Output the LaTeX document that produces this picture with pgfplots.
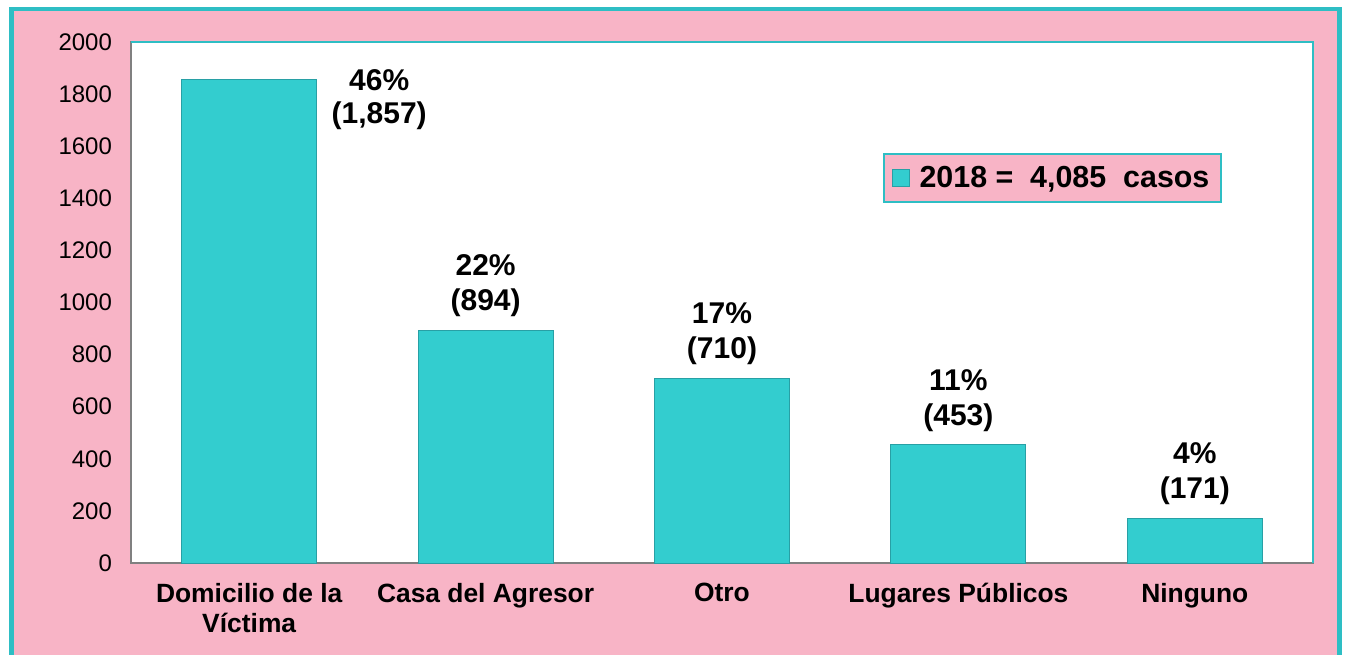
\documentclass[border=0pt]{standalone}
\usepackage{pgfplots}
\pgfplotsset{compat=1.18}
\usepackage{fontspec}
\setmainfont{Liberation Sans}
\definecolor{bgpink}{RGB}{248,180,198}
\definecolor{tealb}{RGB}{46,190,196}
\definecolor{barfill}{RGB}{51,205,207}
\definecolor{bardraw}{RGB}{40,160,165}
\begin{document}
\begin{tikzpicture}
% background and outer frame (1 px = 0.5pt)
\fill[white] (0pt,0pt) rectangle (672.5pt,327.5pt);
\fill[tealb] (4.5pt,0pt) rectangle (671pt,324pt);
\fill[bgpink] (7pt,0pt) rectangle (668.5pt,322pt);
\begin{axis}[
  at={(65.5pt,46pt)}, anchor=south west,
  scale only axis, width=591pt, height=260.5pt,
  xmin=-0.5, xmax=4.5, ymin=0, ymax=2000,
  ybar, bar width=67.5pt, bar shift=0pt,
  xtick=data,
  xticklabels={{Domicilio de la\\Víctima},{Casa del Agresor},{Otro},{Lugares Públicos},{Ninguno}},
  xticklabel style={align=center, font=\fontsize{13.2}{15}\selectfont\bfseries, yshift=-6.5pt},
  ytick={0,200,...,2000},
  yticklabel style={font=\fontsize{12}{14}\selectfont, xshift=-6pt},
  /pgf/number format/assume math mode=true,
  /pgf/number format/1000 sep={},
  major tick length=0pt,
  axis background/.style={fill=white},
  axis line style={draw=gray, line width=0.9pt},
  clip=false,
  legend style={at={(0.636,0.787)}, anchor=north west, fill=bgpink, draw=tealb, line width=1pt,
    font=\fontsize{15.2}{17}\selectfont\bfseries, inner xsep=4pt, inner ysep=4pt},
  legend image code/.code={\fill[barfill, draw=bardraw, line width=0.4pt] (1.5pt,-4.2pt) rectangle (10pt,4.2pt);},
]
\addplot[fill=barfill, draw=bardraw, line width=0.5pt] coordinates {(0,1857) (1,894) (2,710) (3,453) (4,171)};
\addlegendentry{\hspace{3pt}2018 =\ \ 4,085\ \ casos}
\draw[tealb, line width=1pt] (rel axis cs:0,1) -- (rel axis cs:1,1) -- (rel axis cs:1,0);
\begin{scope}[every node/.style={align=center, inner sep=0pt, font=\fontsize{15}{16.5}\selectfont\bfseries}]
\node[anchor=north, xshift=65pt, yshift=5pt] at (axis cs:0,1857) {46\%\\(1,857)};
\node[anchor=south, yshift=6.5pt] at (axis cs:1,894) {22\%\\[1pt](894)};
\node[anchor=south, yshift=6.5pt] at (axis cs:2,710) {17\%\\[1pt](710)};
\node[anchor=south, yshift=6.5pt] at (axis cs:3,453) {11\%\\[1pt](453)};
\node[anchor=south, yshift=6.5pt] at (axis cs:4,171) {4\%\\[1pt](171)};
\end{scope}
\end{axis}
\end{tikzpicture}
\end{document}
